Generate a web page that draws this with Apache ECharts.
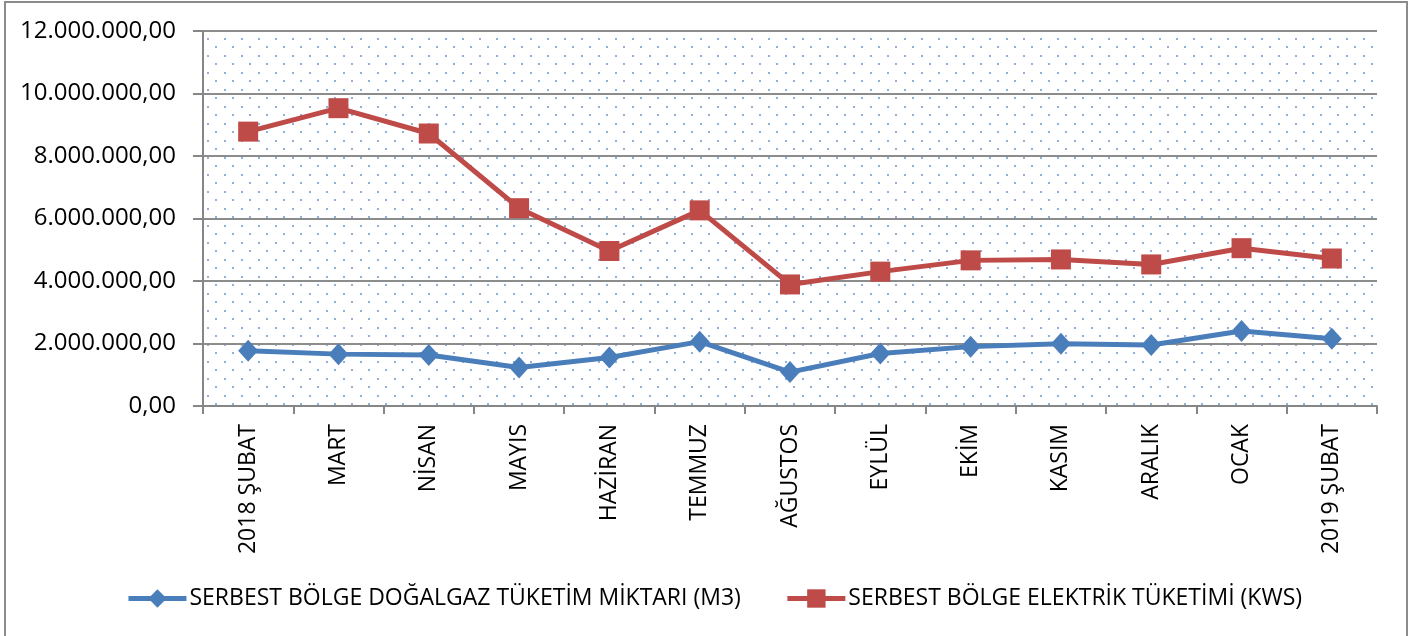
<!DOCTYPE html>
<html>
<head>
<meta charset="utf-8">
<script src="https://cdn.jsdelivr.net/npm/echarts@6/dist/echarts.min.js"></script>
<style>
  html, body { margin: 0; padding: 0; background: #fff; }
  #chart { width: 1428px; height: 636px; }
</style>
</head>
<body>
<div id="chart"></div>
<script>
"use strict";

var months = ['2018 ŞUBAT', 'MART', 'NİSAN', 'MAYIS', 'HAZİRAN', 'TEMMUZ', 'AĞUSTOS',
    'EYLÜL', 'EKİM', 'KASIM', 'ARALIK', 'OCAK', '2019 ŞUBAT'];

var gasName = 'SERBEST BÖLGE DOĞALGAZ TÜKETİM MİKTARI (M3)';
var gasValues = [1770000, 1660000, 1630000, 1230000, 1550000, 2060000, 1085000,
    1680000, 1900000, 1990000, 1950000, 2400000, 2150000];

var powerName = 'SERBEST BÖLGE ELEKTRİK TÜKETİMİ (KWS)';
var powerValues = [8780000, 9530000, 8720000, 6330000, 4960000, 6260000, 3890000,
    4300000, 4660000, 4690000, 4530000, 5050000, 4720000];

var yMax = 12000000, yStep = 2000000;

// turkish style number: 12.000.000,00
function formatTr(v) {
    var s = String(Math.round(v));
    return s.replace(/\B(?=(\d{3})+(?!\d))/g, '.') + ',00';
}

// dotted background like the excel pattern fill
function makeDots() {
    var c = document.createElement('canvas');
    c.width = 17;
    c.height = 17;
    var ctx = c.getContext('2d');
    ctx.fillStyle = '#ffffff';
    ctx.fillRect(0, 0, 17, 17);
    ctx.fillStyle = '#8fb0dc';
    ctx.fillRect(3, 4, 2, 2);
    ctx.fillRect(11, 12, 2, 2);
    return c;
}

var font = '"Open Sans", "Noto Sans", sans-serif';
var myChart = echarts.init(document.getElementById('chart'));

var option = {
    animation: false,
    backgroundColor: '#ffffff',
    textStyle: {fontFamily: font},
    graphic: [{
        type: 'rect',
        shape: {x: 5, y: 2, width: 1402, height: 640},
        style: {fill: 'none', stroke: '#8c8c8c', lineWidth: 2},
        silent: true
    }],
    grid: {
        left: 203, right: 51, top: 31, bottom: 230,
        show: true,
        borderWidth: 0,
        backgroundColor: {image: makeDots(), repeat: 'repeat'}
    },
    legend: {
        bottom: 21,
        left: 'center',
        itemWidth: 58,
        itemHeight: 23,
        itemGap: 44,
        lineStyle: {width: 5},
        textStyle: {fontSize: 23, color: '#000', fontFamily: font, padding: [0, 0, 0, -2]},
        data: [gasName, powerName]
    },
    xAxis: {
        type: 'category',
        data: months,
        boundaryGap: true,
        axisLine: {lineStyle: {color: '#868686', width: 2}},
        axisTick: {show: true, length: 8, lineStyle: {color: '#868686', width: 2}},
        axisLabel: {
            rotate: 90,
            interval: 0,
            margin: 18,
            fontSize: 23,
            color: '#000',
            fontFamily: font
        }
    },
    yAxis: {
        type: 'value',
        min: 0,
        max: yMax,
        interval: yStep,
        axisLine: {show: true, lineStyle: {color: '#868686', width: 2}},
        axisTick: {show: true, length: 10, lineStyle: {color: '#868686', width: 2}},
        splitLine: {show: true, lineStyle: {color: '#8c8c8c', width: 2}},
        axisLabel: {
            formatter: formatTr,
            margin: 27,
            fontSize: 24,
            color: '#000',
            fontFamily: font
        }
    },
    series: [
        {
            name: gasName,
            type: 'line',
            data: gasValues,
            symbol: 'diamond',
            symbolSize: [20, 22],
            lineStyle: {color: '#4a7ebb', width: 5},
            itemStyle: {color: '#4a7ebb'}
        },
        {
            name: powerName,
            type: 'line',
            data: powerValues,
            symbol: 'rect',
            symbolSize: 20,
            lineStyle: {color: '#be4b48', width: 5},
            itemStyle: {color: '#be4b48'}
        }
    ]
};

myChart.setOption(option);
</script>
</body>
</html>
